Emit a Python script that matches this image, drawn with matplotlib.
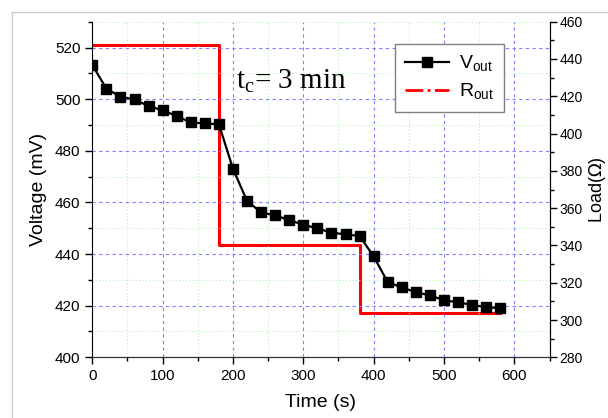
import numpy as np
import matplotlib
matplotlib.use("Agg")
import matplotlib.pyplot as plt
from matplotlib.lines import Line2D
from matplotlib.ticker import MultipleLocator

plt.rcParams['font.family'] = ['Liberation Sans', 'DejaVu Sans']

# ---- data ----
time_s = [0, 20, 40, 60, 80, 100, 120, 140, 160, 180,
          200, 220, 240, 260, 280, 300, 320, 340, 360, 380,
          400, 420, 440, 460, 480, 500, 520, 540, 560, 580]
v_out = [513.2, 504.1, 500.9, 499.9, 497.3, 495.7, 493.4, 491.0, 490.6, 490.3,
         473.0, 460.6, 456.1, 455.0, 453.1, 451.4, 449.9, 448.3, 447.6, 447.0,
         439.1, 429.1, 427.1, 425.2, 424.0, 422.1, 421.3, 420.3, 419.4, 419.0]

r_time = [0, 180, 180, 380, 380, 580]
r_out = [447.5, 447.5, 340, 340, 304, 304]

W, H = 608, 418
fig = plt.figure(figsize=(W / 100, H / 100), dpi=100)
ax = fig.add_axes([92.3 / W, 1 - 357.3 / H, (549.5 - 92.3) / W, (357.3 - 21.7) / H])
ax2 = ax.twinx()

# light gray frame of the figure
fig.add_artist(Line2D([12 / W, 12 / W], [0, 1 - 12 / H], transform=fig.transFigure,
                      color='#cccccc', lw=1))
fig.add_artist(Line2D([12 / W, 1], [1 - 12 / H, 1 - 12 / H], transform=fig.transFigure,
                      color='#cccccc', lw=1))

ax.set_xlim(0, 650)
ax.set_ylim(400, 530)
ax2.set_ylim(280, 460)

# grid
ax.xaxis.set_major_locator(MultipleLocator(100))
ax.xaxis.set_minor_locator(MultipleLocator(50))
ax.yaxis.set_major_locator(MultipleLocator(20))
ax.yaxis.set_minor_locator(MultipleLocator(10))
ax2.yaxis.set_major_locator(MultipleLocator(20))
ax2.yaxis.set_minor_locator(MultipleLocator(10))
ax.grid(which='major', color='#7f7fff', ls=(0, (3, 3)), lw=0.8)
ax.grid(which='minor', color='#b8f0b8', ls=(0, (1, 2)), lw=0.8)
ax.set_axisbelow(True)

ax.plot(time_s, v_out, color='black', lw=1.6, marker='s', ms=7.5, zorder=3)
ax2.plot(r_time, r_out, color='red', lw=2.2, zorder=3)
ax.set_zorder(ax2.get_zorder() + 1)
ax.patch.set_visible(False)

for a in (ax, ax2):
    a.spines['top'].set_visible(False)
    a.tick_params(which='major', direction='out', length=5, width=1, labelsize=11)
    a.tick_params(which='minor', direction='out', length=3, width=1)
ax2.tick_params(labelsize=10, pad=2)
ax2.spines['left'].set_visible(False)
ax2.spines['right'].set_color('#333333')
ax.spines['bottom'].set_color('#333333')

ax.set_xlabel('Time (s)', fontsize=14, labelpad=8)
ax.set_ylabel('Voltage (mV)', fontsize=14, labelpad=6)
ax2.set_ylabel(r'Load($\Omega$)', fontsize=13, labelpad=3)

ax.text(204, 504.3, r't$_{\mathregular{c}}$= 3 min', fontsize=21,
        family=['Liberation Serif', 'DejaVu Serif'], va='baseline', ha='left')

handles = [Line2D([], [], color='black', lw=1.6, marker='s', ms=7),
           Line2D([], [], color='red', lw=2, ls='-.')]
labels = [r'V$_{\mathregular{out}}$', r'R$_{\mathregular{out}}$']
leg = ax.legend(handles, labels, loc='upper left', bbox_to_anchor=(0.662, 0.933),
                borderaxespad=0, fontsize=14, fancybox=False, edgecolor='#808080',
                framealpha=1, handlelength=2.3, handletextpad=0.5, borderpad=0.5,
                labelspacing=0.4)
leg.get_frame().set_linewidth(1)

fig.savefig('out.png', dpi=100)
